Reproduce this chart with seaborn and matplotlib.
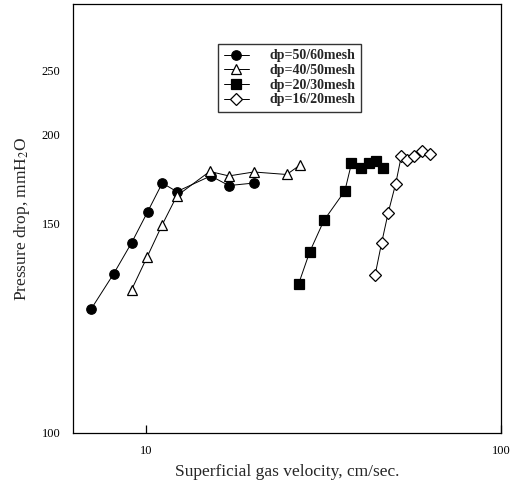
import numpy as np
import seaborn as sns
import matplotlib.pyplot as plt

# Data
vel_50_60 = [7.0, 8.1, 9.1, 10.1, 11.1, 12.2, 15.2, 17.1, 20.1]
dp_50_60 = [129.6, 138.0, 145.4, 156.6, 172.6, 167.8, 176.6, 171.2, 172.6]

vel_40_50 = [9.1, 10.05, 11.07, 12.2, 15.1, 17.1, 20.1, 24.9, 27.1]
dp_40_50 = [134.2, 141.9, 149.5, 165.4, 179.1, 176.6, 178.8, 177.4, 182.6]

vel_20_30 = [26.9, 28.9, 31.7, 36.3, 37.9, 40.2, 42.5, 44.4, 46.6]
dp_20_30 = [135.6, 143.2, 151.7, 168.2, 183.6, 181.3, 183.6, 184.7, 181.3]

vel_16_20 = [44.2, 46.1, 48.1, 50.5, 52.4, 54.5, 56.9, 59.7, 63.0]
dp_16_20 = [137.8, 145.4, 156.0, 172.3, 187.9, 185.6, 187.9, 190.7, 188.8]

labels = ['dp=50/60mesh', 'dp=40/50mesh', 'dp=20/30mesh', 'dp=16/20mesh']
y_ticks = [100, 150, 200, 250]

# the y axis of the original figure is not evenly spaced, so map it piecewise
_yv = [0, 100, 150, 200, 250, 350]
_yp = [-209, 0, 209, 298, 361, 487]


def _fwd(v):
    return np.interp(v, _yv, _yp)


def _inv(p):
    return np.interp(p, _yp, _yv)


sns.set_style('white')
plt.rcParams['font.family'] = ['Liberation Serif', 'DejaVu Serif']
plt.rcParams['mathtext.fontset'] = 'stix'

fig = plt.figure(figsize=(5.11, 4.95), dpi=100)
ax = fig.add_axes([0.1429, 0.1253, 0.8375, 0.8666])

series = [
    (vel_50_60, dp_50_60, 'o', 'black'),
    (vel_40_50, dp_40_50, '^', 'white'),
    (vel_20_30, dp_20_30, 's', 'black'),
    (vel_16_20, dp_16_20, 'D', 'white'),
]
sizes = {'o': 6.8, '^': 7.4, 's': 6.6, 'D': 6.6}

for (xv, yv, mk, face), lab in zip(series, labels):
    sns.lineplot(x=xv, y=yv, ax=ax, sort=False, color='black',
                 linewidth=0.7, marker=mk, markersize=sizes[mk],
                 markerfacecolor=face, markeredgecolor='black',
                 markeredgewidth=0.9, label=lab)

ax.set_xscale('log')
ax.set_yscale('function', functions=(_fwd, _inv))
ax.set_xlim(6.22, 100)
ax.set_ylim(100, 303)

ax.set_xticks([10, 100])
ax.set_xticklabels(['10', '100'])
ax.xaxis.set_minor_locator(plt.NullLocator())
ax.set_yticks(y_ticks)
ax.set_yticklabels([str(t) for t in y_ticks])
ax.yaxis.set_minor_locator(plt.NullLocator())
ax.tick_params(axis='x', bottom=True, direction='in', length=6, width=0.9,
               pad=9, labelsize=9, colors='black')
ax.tick_params(axis='y', left=False, length=0, pad=9, labelsize=9,
               colors='black')

for sp in ax.spines.values():
    sp.set_color('black')
    sp.set_linewidth(0.9)

ax.set_xlabel('Superficial gas velocity, cm/sec.', fontsize=12.5,
              labelpad=5)
ax.set_ylabel('Pressure drop, mmH$_2$O', fontsize=12.5, labelpad=7)

leg = ax.legend(loc='upper left', bbox_to_anchor=(0.339, 0.907),
                borderaxespad=0, fontsize=10, frameon=True,
                fancybox=False, handlelength=1.8, labelspacing=0.12,
                borderpad=0.4, handletextpad=1.5)
leg.get_frame().set_edgecolor('black')
leg.get_frame().set_linewidth(1.0)
for t in leg.get_texts():
    t.set_fontweight('bold')

fig.savefig('out.png', dpi=100)
